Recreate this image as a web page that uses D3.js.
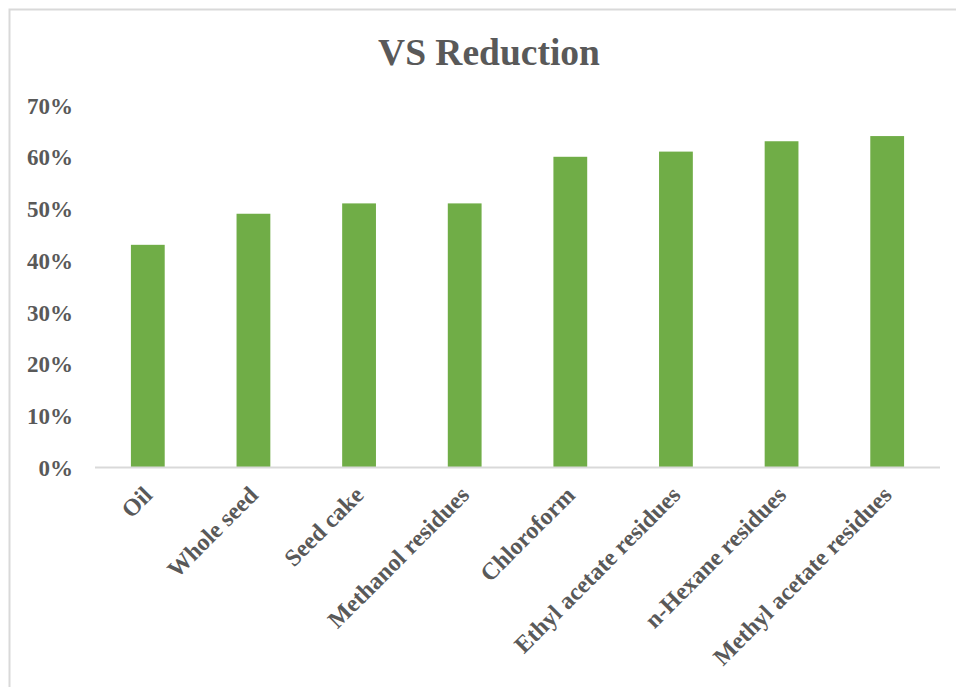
<!DOCTYPE html>
<html>
<head>
<meta charset="utf-8">
<script src="https://cdn.jsdelivr.net/npm/d3@7/dist/d3.min.js"></script>
<style>
  html, body { margin: 0; padding: 0; background: #fff; }
  svg { display: block; }
  text { font-family: "Liberation Serif", "Times New Roman", serif; font-weight: bold; fill: #595959; }
</style>
</head>
<body>
<svg id="chart" width="956" height="687"></svg>
<script>
// Volatile solids reduction per substrate
const categories = ["Oil", "Whole seed", "Seed cake", "Methanol residues", "Chloroform",
  "Ethyl acetate residues", "n-Hexane residues", "Methyl acetate residues"];
const vsReduction = [0.43, 0.49, 0.51, 0.51, 0.60, 0.61, 0.63, 0.64];
const yTicks = [0, 0.1, 0.2, 0.3, 0.4, 0.5, 0.6, 0.7];
const chartTitle = "VS Reduction";

const svg = d3.select("#chart");
const W = 956, H = 687;

// chart area frame
svg.append("rect")
  .attr("x", 9.5).attr("y", 9.5)
  .attr("width", W + 10).attr("height", H + 10)
  .attr("fill", "#fff")
  .attr("stroke", "#d9d9d9")
  .attr("stroke-width", 2);

const plot = { left: 95, right: 940, top: 105, bottom: 467.5 };

const x = d3.scaleBand()
  .domain(categories)
  .range([plot.left, plot.right])
  .paddingInner(0.68)
  .paddingOuter(0.34);

const y = d3.scaleLinear()
  .domain([0, 0.7])
  .range([plot.bottom, plot.top]);

// title
svg.append("text")
  .attr("x", 489).attr("y", 65)
  .attr("text-anchor", "middle")
  .style("font-size", "37.5px")
  .text(chartTitle);

// bars
svg.append("g").selectAll("rect")
  .data(categories.map((c, i) => ({ c, v: vsReduction[i] })))
  .join("rect")
  .attr("x", d => x(d.c))
  .attr("y", d => y(d.v))
  .attr("width", x.bandwidth())
  .attr("height", d => y(0) - y(d.v))
  .attr("fill", "#70ad47");

// y axis labels (no axis line)
const yAxis = d3.axisLeft(y)
  .tickValues(yTicks)
  .tickFormat(d3.format(".0%"))
  .tickSize(0)
  .tickPadding(0);
const gy = svg.append("g")
  .attr("transform", "translate(73,0)")
  .call(yAxis);
gy.select(".domain").remove();
gy.selectAll("text")
  .style("font-size", "23px")
  .style("font-family", "'Liberation Serif', 'Times New Roman', serif")
  .attr("fill", "#595959")
  .attr("dy", "0.35em");

// x axis
const xAxis = d3.axisBottom(x).tickSize(0).tickPadding(0);
const gx = svg.append("g")
  .attr("transform", `translate(0,${plot.bottom})`)
  .call(xAxis);
gx.select(".domain")
  .attr("stroke", "#d9d9d9")
  .attr("stroke-width", 2)
  .attr("d", `M${plot.left},0H${plot.right}`);
gx.selectAll(".tick text")
  .style("font-size", "24px")
  .style("font-family", "'Liberation Serif', 'Times New Roman', serif")
  .attr("fill", "#595959")
  .attr("text-anchor", "end")
  .attr("dy", 0)
  .attr("y", 0)
  .attr("transform", "translate(6,29) rotate(-45)");
</script>
</body>
</html>
